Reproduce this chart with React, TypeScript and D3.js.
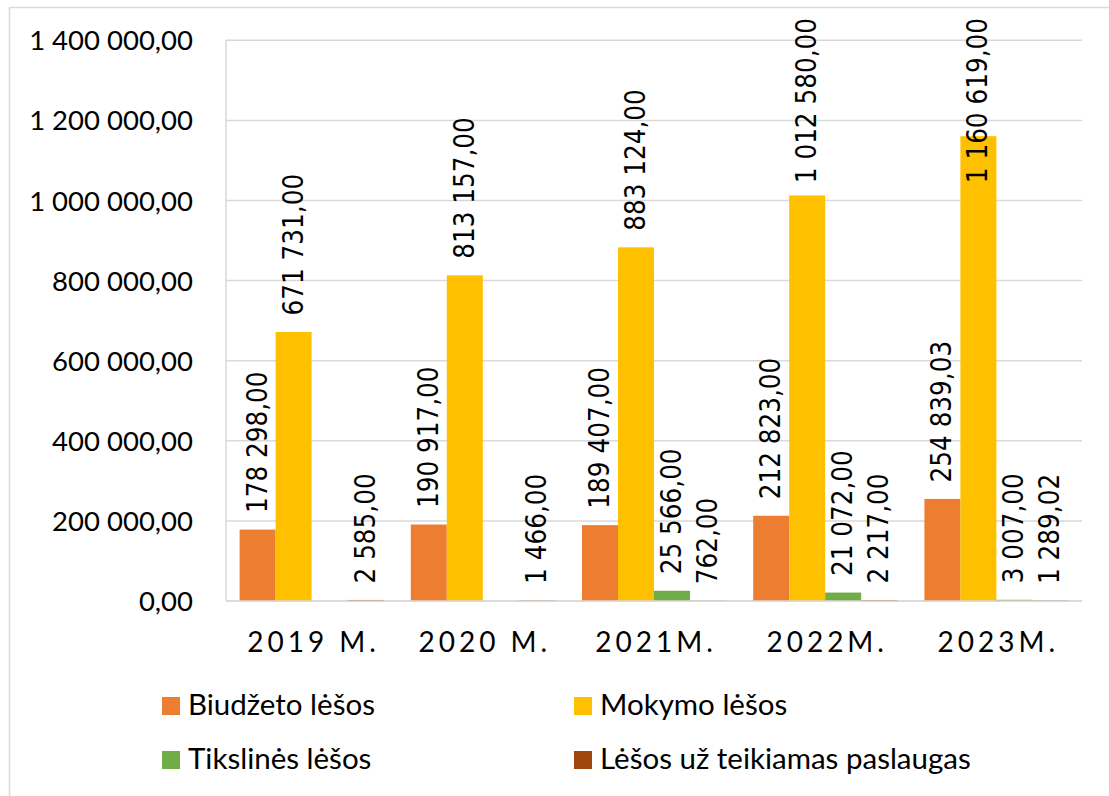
import React, { useEffect, useRef } from "react";
import * as d3 from "d3";

const categories = ["2019 M.", "2020 M.", "2021M.", "2022M.", "2023M."];
const seriesNames = ["Biudžeto lėšos", "Mokymo lėšos", "Tikslinės lėšos", "Lėšos už teikiamas paslaugas"];
const biudzeto = [178298.0, 190917.0, 189407.0, 212823.0, 254839.03];
const mokymo = [671731.0, 813157.0, 883124.0, 1012580.0, 1160619.0];
const tikslines: (number | null)[] = [null, null, 25566.0, 21072.0, 3007.0];
const paslaugos = [2585.0, 1466.0, 762.0, 2217.0, 1289.02];
const colors = ["#ED7D31", "#FFC000", "#70AD47", "#9E480E"];
const yTicks = [0, 200000, 400000, 600000, 800000, 1000000, 1200000, 1400000];

const W = 1109;
const H = 796;

function fmt(v: number): string {
  const parts = v.toFixed(2).split(".");
  const int = parts[0].replace(/\B(?=(\d{3})+(?!\d))/g, " ");
  return int + "," + parts[1];
}

export default function App() {
  const ref = useRef<SVGSVGElement | null>(null);
  useEffect(() => {
    const svg = d3.select(ref.current);
    svg.selectAll("*").remove();
    const left = 226, right = 1082, top = 40.3, bottom = 601;
    const x0 = d3.scaleBand<string>().domain(categories).range([left, right]).paddingInner(0).paddingOuter(0);
    const x1 = d3.scaleBand<number>().domain([0, 1, 2, 3]).range([0, 144]);
    const y = d3.scaleLinear().domain([0, 1400000]).range([bottom, top]);
    const allSeries = [biudzeto, mokymo, tikslines, paslaugos];

    // outer border
    svg.append("rect").attr("x", 9.5).attr("y", 7.5).attr("width", W + 20).attr("height", H + 20)
      .attr("fill", "white").attr("stroke", "#d9d9d9").attr("stroke-width", 1.5);

    // gridlines
    svg.append("g").selectAll("line").data(yTicks).join("line")
      .attr("x1", left).attr("x2", right)
      .attr("y1", (d) => y(d)).attr("y2", (d) => y(d))
      .attr("stroke", "#d9d9d9").attr("stroke-width", 1.5);
    svg.append("line").attr("x1", left).attr("x2", left).attr("y1", top).attr("y2", bottom)
      .attr("stroke", "#d9d9d9").attr("stroke-width", 1.5);

    // y tick labels
    svg.append("g").selectAll("text").data(yTicks).join("text")
      .attr("x", 193).attr("y", (d) => y(d) + 10)
      .attr("text-anchor", "end")
      .style("font-family", "Lato, 'Open Sans', sans-serif")
      .style("font-size", "27.5px").attr("fill", "#000")
      .text((d) => fmt(d));

    // bars
    const groupOffset = (x0.bandwidth() - 144) / 2;
    const labelsG = svg.append("g");
    allSeries.forEach((vals, si) => {
      vals.forEach((v, ci) => {
        if (v === null || v === undefined) return;
        const bx = (x0(categories[ci]) as number) + groupOffset + (x1(si) as number);
        const bw = x1.bandwidth();
        svg.append("rect").attr("x", bx).attr("y", y(v)).attr("width", bw)
          .attr("height", Math.max(0, bottom - y(v))).attr("fill", colors[si]);
        const cx = bx + bw / 2;
        const t = labelsG.append("text")
          .attr("text-anchor", "start")
          .style("font-family", "'DejaVu Sans Condensed', 'DejaVu Sans', sans-serif")
          .style("font-stretch", "condensed")
          .style("font-size", "27.5px").attr("fill", "#000")
          .text(fmt(v));
        const len = (t.node() as SVGTextElement).getComputedTextLength();
        let ys = y(v) - 16.5;
        if (ys - len < 18) ys = 18 + len;
        t.attr("transform", `translate(${cx + 9},${ys}) rotate(-90)`);
      });
    });
    // baseline on top of bars
    svg.append("line").attr("x1", left).attr("x2", right).attr("y1", bottom).attr("y2", bottom)
      .attr("stroke", "#d9d9d9").attr("stroke-width", 1.5);
    labelsG.raise();

    // x labels
    svg.append("g").selectAll("text").data(categories).join("text")
      .attr("x", (d) => (x0(d) as number) + x0.bandwidth() / 2 + 2)
      .attr("y", 652)
      .attr("text-anchor", "middle")
      .style("font-family", "Lato, 'Open Sans', sans-serif")
      .style("font-size", "28px")
      .style("letter-spacing", "4px")
      .attr("fill", "#000")
      .text((d) => d);

    // legend
    const legendPos = [
      { mx: 162, my: 697 },
      { mx: 574, my: 697 },
      { mx: 162, my: 751 },
      { mx: 574, my: 751 },
    ];
    seriesNames.forEach((name, i) => {
      const p = legendPos[i];
      svg.append("rect").attr("x", p.mx).attr("y", p.my).attr("width", 18).attr("height", 18).attr("fill", colors[i]);
      svg.append("text").attr("x", p.mx + 26).attr("y", p.my + 18)
        .style("font-family", "Lato, 'Open Sans', sans-serif")
        .style("font-size", "29.5px").attr("fill", "#000")
        .text(name);
    });
  }, []);
  return (
    <svg ref={ref} width={W} height={H} style={{ position: "absolute", left: 0, top: 0, background: "white" }} />
  );
}
